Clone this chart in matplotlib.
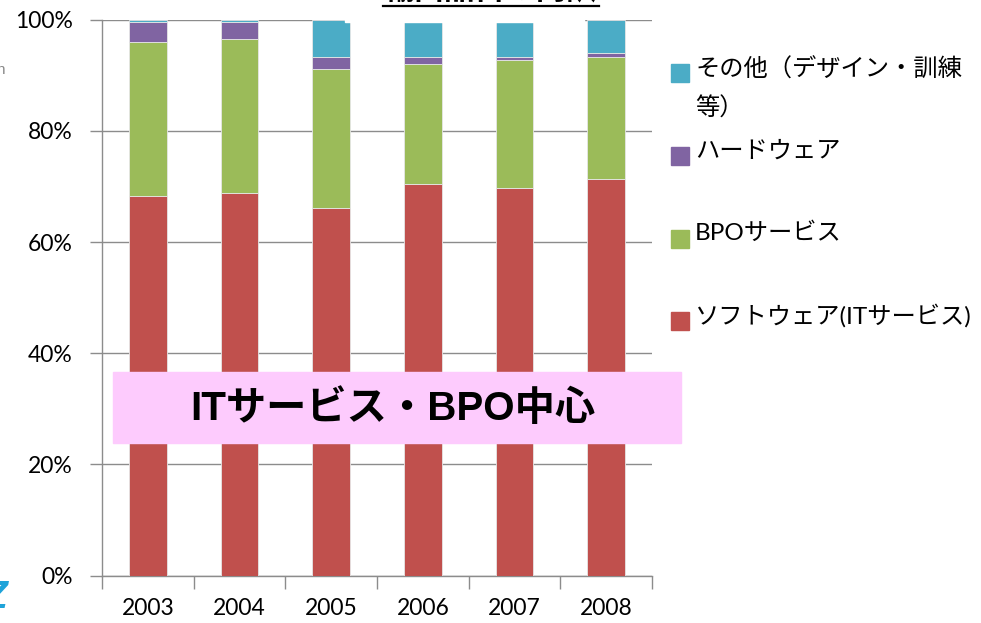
import matplotlib
matplotlib.use("Agg")
import matplotlib.pyplot as plt
from matplotlib.patches import Rectangle
from matplotlib.lines import Line2D
from matplotlib.ticker import PercentFormatter, FixedLocator

# 年度別の輸出内訳（構成比 %）
years = ["2003", "2004", "2005", "2006", "2007", "2008"]
software = [68.2, 68.9, 66.2, 70.5, 69.8, 71.4]
bpo = [27.7, 27.6, 24.9, 21.5, 22.9, 21.9]
hardware = [3.7, 3.1, 2.2, 1.2, 0.6, 0.7]
others = [0.4, 0.4, 6.7, 6.8, 6.7, 6.0]

series_labels = ["ソフトウェア(ITサービス)", "BPOサービス", "ハードウェア", "その他（デザイン・訓練\n等）"]
colors = ["#C0504D", "#9BBB59", "#8064A2", "#4BACC6"]

W, H = 981, 623
fig = plt.figure(figsize=(W / 100, H / 100), dpi=100)


def fx(x):
    return x / W


def fy(y):
    return 1 - y / H


ax = fig.add_axes([fx(102), fy(575.5), 550 / W, 555.8 / H])

x = list(range(len(years)))
bottom = [0.0] * len(years)
for vals, col in zip([software, bpo, hardware, others], colors):
    ax.bar(x, vals, width=0.41, bottom=bottom, color=col,
           edgecolor="#e6e6e6", linewidth=0.6, zorder=3)
    bottom = [b + v for b, v in zip(bottom, vals)]

grid_col = "#8c8c8c"
ax.set_xlim(-0.5, len(years) - 0.5)
ax.set_ylim(0, 100)
ax.set_yticks([0, 20, 40, 60, 80, 100])
ax.yaxis.set_major_formatter(PercentFormatter(decimals=0))
ax.yaxis.grid(True, color=grid_col, linewidth=1.0, zorder=0)
ax.set_axisbelow(True)

ax.set_xticks(x)
ax.set_xticklabels(years)
ax.xaxis.set_minor_locator(FixedLocator([i - 0.5 for i in range(len(years) + 1)]))
ax.tick_params(axis="x", which="major", length=0, pad=16, labelsize=16.5)
ax.tick_params(axis="x", which="minor", length=9, color=grid_col, width=1)
ax.tick_params(axis="y", length=9, color=grid_col, width=1, pad=12, labelsize=16.5)
for lab in ax.get_xticklabels() + ax.get_yticklabels():
    lab.set_family("Lato")

for side in ["top", "right"]:
    ax.spines[side].set_visible(False)
for side in ["left", "bottom"]:
    ax.spines[side].set_color(grid_col)
    ax.spines[side].set_linewidth(1.0)

# 凡例（上から順に）
legend_font = ["Lato", "Noto Sans CJK JP"]
swatch_y = [73, 156, 238.5, 321]
for lab, col, yy in zip(series_labels[::-1], colors[::-1], swatch_y):
    fig.patches.append(Rectangle((fx(671), fy(yy + 9)), 18 / W, 18 / H,
                                 transform=fig.transFigure, color=col))
    if "\n" in lab:
        fig.text(fx(695), fy(yy - 16), lab, ha="left", va="top", fontsize=17.5,
                 family=legend_font, linespacing=1.85)
    else:
        fig.text(fx(695), fy(yy - 5), lab, ha="left", va="center", fontsize=17.5,
                 family=legend_font)

# ピンクの注記ボックス
fig.patches.append(Rectangle((fx(113), fy(443)), (681 - 113) / W, (443 - 372) / H,
                             transform=fig.transFigure, color="#FDCBFD", zorder=5))
fig.text(fx(393), fy(409), "ITサービス・BPO中心", ha="center", va="center",
         fontsize=29, fontweight="bold", family=["Liberation Sans", "Noto Sans CJK JP"],
         zorder=6)

# タイトル（上端で切れている）
fig.patches.append(Rectangle((fx(345), fy(21.5)), (584 - 345) / W, 21.5 / H,
                             transform=fig.transFigure, color="white", zorder=5))
fig.text(fx(383), fy(-1), "輸出品目の内訳", ha="left", va="baseline", fontsize=22,
         fontweight="bold", family="Noto Sans CJK JP", zorder=6)
fig.lines.append(Line2D([fx(383), fx(599)], [fy(5.5), fy(5.5)], transform=fig.transFigure,
                        color="black", linewidth=1.6, zorder=6))

# 左端の切れた文字
fig.text(fx(8), fy(598), "Z", ha="right", va="center", fontsize=28, fontweight="bold",
         color="#1FA3D9", style="italic", family="Liberation Sans")
fig.text(fx(5), fy(70), "n", ha="right", va="center", fontsize=11, color="#888888",
         family="Liberation Sans")

fig.savefig("out.png", dpi=100)
